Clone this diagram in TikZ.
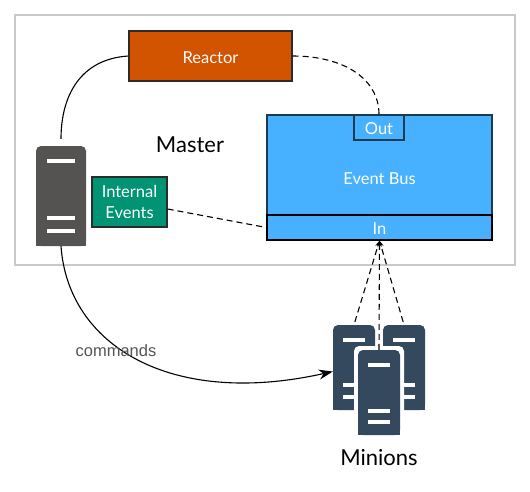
\documentclass[tikz,border=0pt]{standalone}
\usepackage{fontspec}
\setmainfont{Lato}
\newfontfamily\cmdfont{Liberation Sans}
\usepackage{xcolor}
\usetikzlibrary{arrows.meta,calc,positioning}
\definecolor{rctCol}{HTML}{D35400}
\definecolor{intCol}{HTML}{009374}
\definecolor{busCol}{HTML}{47B0FF}
\definecolor{busEdge}{HTML}{1B3B52}
\definecolor{boxEdge}{HTML}{2B2B2B}
\definecolor{frameEdge}{HTML}{C9C9CD}
\definecolor{mstCol}{HTML}{545351}
\definecolor{minCol}{HTML}{34495E}
\definecolor{cmdCol}{HTML}{555555}
% one server: name, colour, centre, width, height, bar width, lower bar offsets
\newcommand{\srvnode}[7]{
  \node[srv={#2}, minimum width=#4pt, minimum height=#5pt] (#1) at (#3) {};
  \fill[#2] (#1.west) rectangle (#1.south east);
  \fill[white] ($(#1.north)+(-#6/2,13)$) rectangle ($(#1.north)+(#6/2,17)$);
  \foreach \off in {#7}
    \fill[white] ($(#1.south)+(-#6/2,-\off-2)$) rectangle ($(#1.south)+(#6/2,-\off+2)$);
}
\begin{document}
\begin{tikzpicture}[x=1pt,y=-1pt,every node/.style={font=\fontsize{16.5}{21}\selectfont,text=white}]
  \tikzset{bx/.style n args={2}{draw=#2,fill=#1,line width=1.3pt,align=center,inner sep=0pt},
    srv/.style={fill=#1,rounded corners=5pt,inner sep=0pt},
    lbl/.style={text=black,font=\fontsize{22}{26}\selectfont},
    low/.style={text height=14.5pt},
    dsh/.style={dash pattern=on 6pt off 4pt,line width=1.1pt}}
  \useasboundingbox (0,0) rectangle (530,491);
  \fill[white] (0,0) rectangle (530,491);
  \node[draw=frameEdge,line width=1.8pt,minimum width=500pt,minimum height=250pt,inner sep=0pt] (frame) at (265,140) {};
  \node[bx={rctCol}{boxEdge},low,minimum width=163pt,minimum height=50pt] (rct) at (210.5,56) {Reactor};
  \node[bx={intCol}{boxEdge},minimum width=75pt,minimum height=50pt] (int) at (129.5,202) {Internal\\Events};
  \node[bx={busCol}{busEdge},low,minimum width=225pt,minimum height=125pt] (bus) at (379.5,177.5) {Event Bus};
  \node[bx={busCol}{black},low,minimum width=225pt,minimum height=25pt] (in) at (379.5,227.5) {In};
  \node[bx={busCol}{busEdge},low,minimum width=50pt,minimum height=25pt] (out) at (379,127.5) {Out};
  \node[lbl] (mst) at (190,145) {Master};
  \node[lbl] (mns) at (379,458) {Minions};
  \srvnode{master}{mstCol}{61,196}{50}{100}{28}{28,15}
  \srvnode{minl}{minCol}{354,367.5}{42}{85}{22}{25,13}
  \srvnode{minr}{minCol}{404,367.5}{42}{85}{22}{25,13}
  \node[srv=white,minimum width=50pt,minimum height=93pt] (minb) at (379,392.5) {};
  \srvnode{minf}{minCol}{379,392.5}{42}{85}{22}{24,13}
  \draw[line width=1.1pt,shorten >=7pt] (rct.west) .. controls +(-48,3) and +(0,-50) .. (master.north);
  \draw[-{Stealth[length=14pt,width=10pt]},line width=1.1pt] (master.south) .. controls (68,345) and (170,408) .. ([yshift=-4pt]minl.west);
  \node[text=cmdCol,font=\cmdfont\fontsize{16.5}{18}\selectfont] (cmd) at (116,351) {commands};
  \draw[dsh] (rct.east) .. controls +(52,0) and +(0,-35) .. (out.north);
  \draw[dsh] (int.east)+(0,7) -- (in.west);
  \draw[dsh,-{Stealth[length=6pt,width=5pt]},shorten <=3pt] (minl.north) -- (in.south);
  \draw[dsh,-{Stealth[length=6pt,width=5pt]}] (minf.north) -- (in.south);
  \draw[dsh,-{Stealth[length=6pt,width=5pt]},shorten <=3pt] (minr.north) -- (in.south);
\end{tikzpicture}
\end{document}
